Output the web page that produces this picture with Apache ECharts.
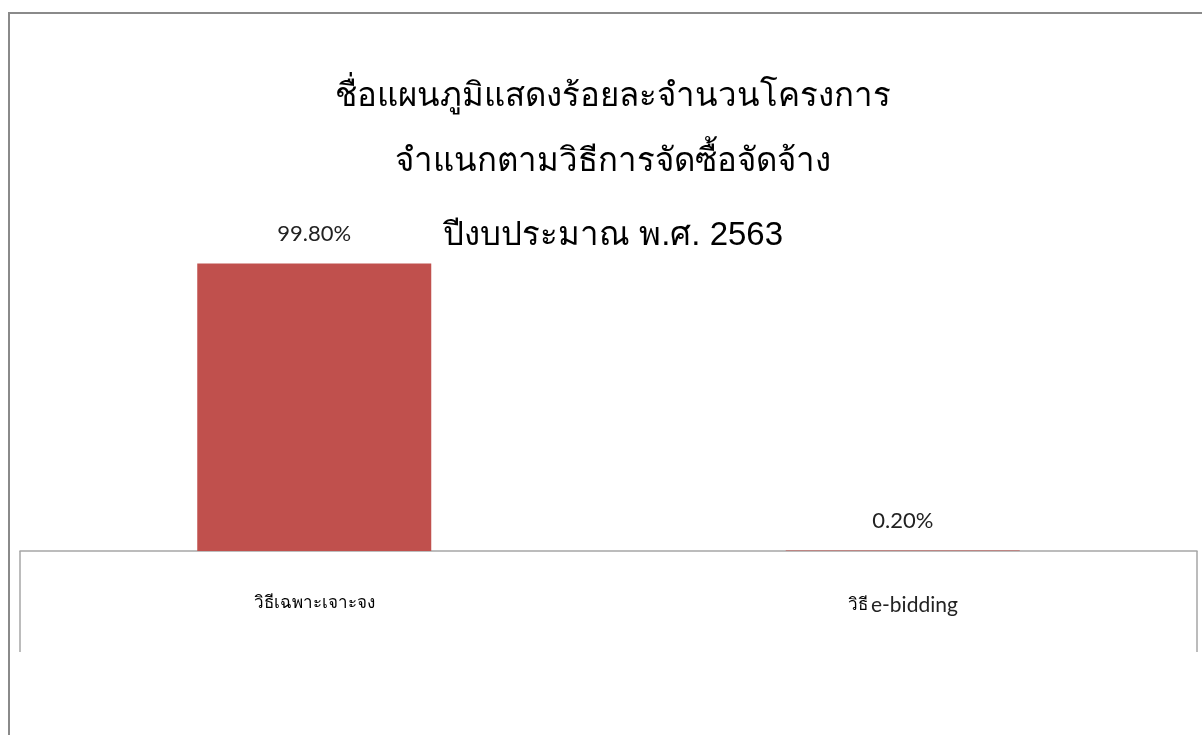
<!DOCTYPE html>
<html>
<head>
<meta charset="utf-8">
<script src="https://cdn.jsdelivr.net/npm/echarts@6/dist/echarts.min.js"></script>
<style>
  html, body { margin: 0; padding: 0; background: #fff; }
  #frame { position: absolute; left: 8px; top: 12px; width: 1210px; height: 740px;
           border-top: 2px solid #8a8a8a; border-left: 2px solid #8a8a8a; }
  #chart { position: absolute; left: 0; top: 0; width: 1202px; height: 735px; }
</style>
</head>
<body>
<div id="frame"></div>
<div id="chart"></div>
<script>
const titleLines = [
  'ชื่อแผนภูมิแสดงร้อยละจำนวนโครงการ',
  'จำแนกตามวิธีการจัดซื้อจัดจ้าง',
  'ปีงบประมาณ พ.ศ. 2563'
];
const categories = ['วิธีเฉพาะเจาะจง', 'วิธี e-bidding'];
const percentValues = [99.8, 0.2];

const chart = echarts.init(document.getElementById('chart'));
const titleTops = [75, 140, 214];
const option = {
  backgroundColor: 'transparent',
  animation: false,
  title: titleLines.map((t, i) => ({
    text: t,
    left: 608,
    textAlign: 'center',
    top: titleTops[i],
    textStyle: { fontFamily: 'Liberation Sans, DejaVu Sans, sans-serif', fontSize: 33, fontWeight: 'normal', color: '#000' }
  })),
  grid: { left: 20, right: 5, top: 263, bottom: 184 },
  xAxis: {
    type: 'category',
    data: categories,
    axisLine: { lineStyle: { color: '#a6a6a6', width: 1.5 } },
    axisTick: { show: true, interval: (i) => i === 0, length: 101, lineStyle: { color: '#a6a6a6', width: 1.5 } },
    axisLabel: {
      margin: 44,
      color: '#000',
      formatter: (v) => {
        const m = v.match(/^(\S+)\s+(.+)$/);
        return m ? '{th|' + m[1] + '} {en|' + m[2] + '}' : '{th|' + v + '}';
      },
      rich: {
        th: { fontSize: 17, fontFamily: 'Liberation Sans, DejaVu Sans, sans-serif', color: '#000' },
        en: { fontSize: 21, fontFamily: 'Lato, Open Sans, sans-serif', color: '#222' }
      }
    }
  },
  yAxis: { type: 'value', min: 0, max: 100, show: false },
  series: [{
    type: 'bar',
    data: percentValues,
    barWidth: 234,
    itemStyle: { color: '#C0504D' },
    label: {
      show: true,
      position: 'top',
      distance: 19,
      formatter: (p) => p.value.toFixed(2) + '%',
      fontSize: 22,
      color: '#222',
      fontFamily: 'Lato, Open Sans, sans-serif'
    }
  }]
};
chart.setOption(option);
</script>
</body>
</html>
